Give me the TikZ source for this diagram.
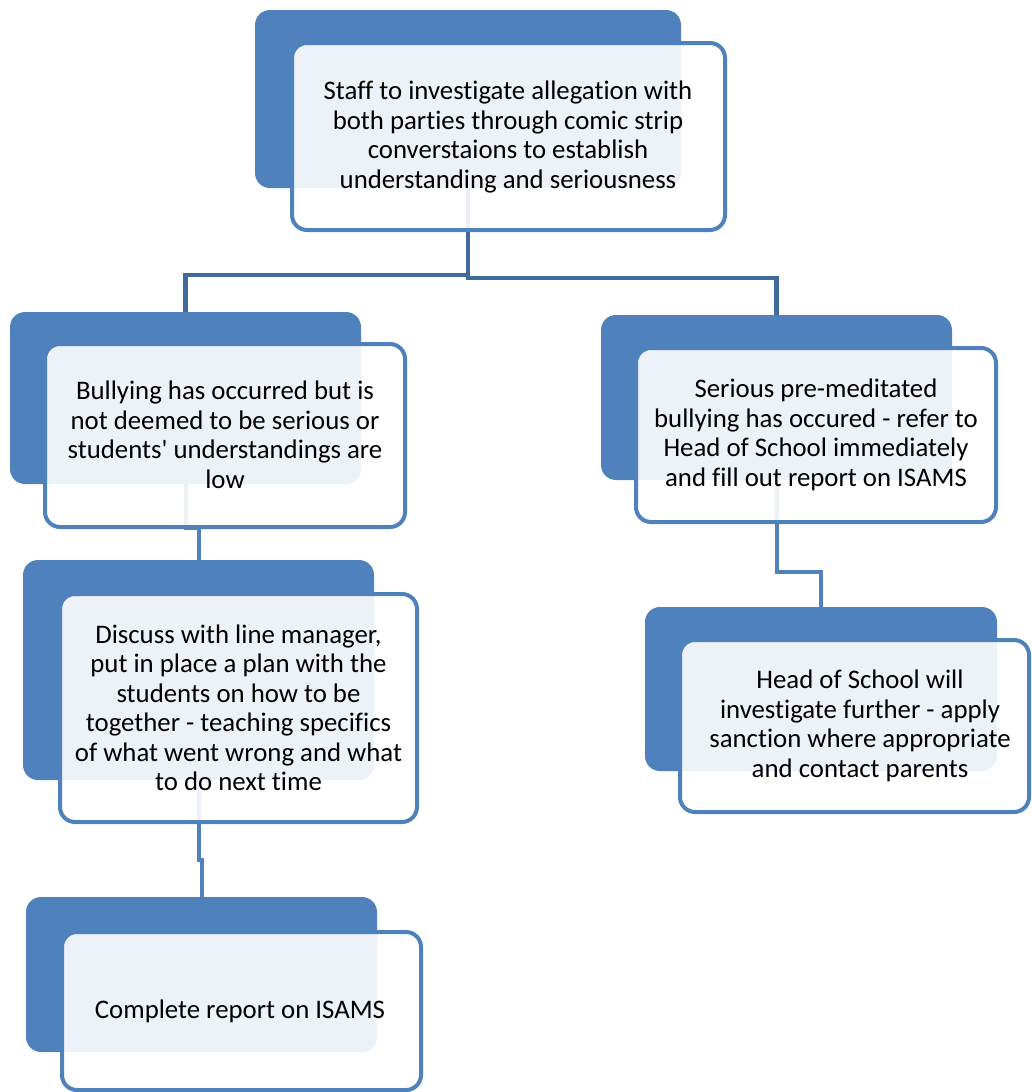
\documentclass[tikz,border=0pt]{standalone}
\usepackage{fontspec}
\setmainfont{Carlito}[Ligatures={TeXOff,CommonOff}, RawFeature={-liga;-clig;-calt}]
\definecolor{accent}{HTML}{4F81BD}
\definecolor{topline}{HTML}{3F6A9B}
\tikzset{
  backbox/.style={fill=accent, rounded corners=15pt, inner sep=0pt, draw=none},
  frontbox/.style={fill=white, fill opacity=0.9, draw=accent, draw opacity=1, line width=4pt, rounded corners=15pt, inner sep=0pt},
  boxtext/.style={font=\fontsize{26.8}{29.5}\selectfont, align=center, text=black, inner sep=0pt},
  conn/.style={draw=accent, line width=4pt},
  topconn/.style={draw=topline, line width=4.5pt},
}
\begin{document}
\begin{tikzpicture}[x=1pt,y=-1pt]
\useasboundingbox (0,0) rectangle (1031,1092);
% back boxes
\node[backbox, minimum width=426pt, minimum height=178pt] (b1) at (468,99) {};
\node[backbox, minimum width=351pt, minimum height=172pt] (b2) at (185.5,398) {};
\node[backbox, minimum width=351pt, minimum height=220pt] (b3) at (198.5,670) {};
\node[backbox, minimum width=351pt, minimum height=155pt] (b4) at (201.5,974.5) {};
\node[backbox, minimum width=351pt, minimum height=165pt] (b5) at (776.5,397.5) {};
\node[backbox, minimum width=352pt, minimum height=164pt] (b6) at (821,689) {};
% connectors
\draw[topconn] (b1.south) -- ++(0,87) -| (b2.north);
\draw[topconn] (b1.south) -- ++(0,90) -| (b5.north);
\draw[conn] (b2.south) -- ++(0,44) -| (b3.north);
\draw[conn] (b3.south) -- ++(0,80) -| (b4.north);
\draw[conn] (b5.south) -- ++(0,92) -| (b6.north);
% front boxes
\node[frontbox, minimum width=433pt, minimum height=187pt] (f1) at (508.5,136.5) {};
\node[frontbox, minimum width=360pt, minimum height=183pt] (f2) at (225,435.5) {};
\node[frontbox, minimum width=357pt, minimum height=228pt] (f3) at (238.5,708) {};
\node[frontbox, minimum width=359pt, minimum height=158pt] (f4) at (241.5,1011) {};
\node[frontbox, minimum width=360pt, minimum height=174pt] (f5) at (816,435) {};
\node[frontbox, minimum width=349pt, minimum height=172pt] (f6) at (854.5,726) {};
% texts
\node[boxtext] (t1) at (508,137) {Staff to investigate allegation with\\both parties through comic strip\\converstaions to establish\\understanding and seriousness};
\node[boxtext] (t2) at (225,435) {Bullying has occurred but is\\not deemed to be serious or\\students' understandings are\\low};
\node[boxtext] (t3) at (238.5,708) {Discuss with line manager,\\put in place a plan with the\\students on how to be\\together - teaching specifics\\of what went wrong and what\\to do next time};
\node[boxtext] (t4) at (240,1011) {Complete report on ISAMS};
\node[boxtext] (t5) at (816,435) {Serious pre-meditated\\bullying has occured - refer to\\Head of School immediately\\and fill out report on ISAMS};
\node[boxtext] (t6) at (860,726) {Head of School will\\investigate further - apply\\sanction where appropriate\\and contact parents};
\end{tikzpicture}
\end{document}
